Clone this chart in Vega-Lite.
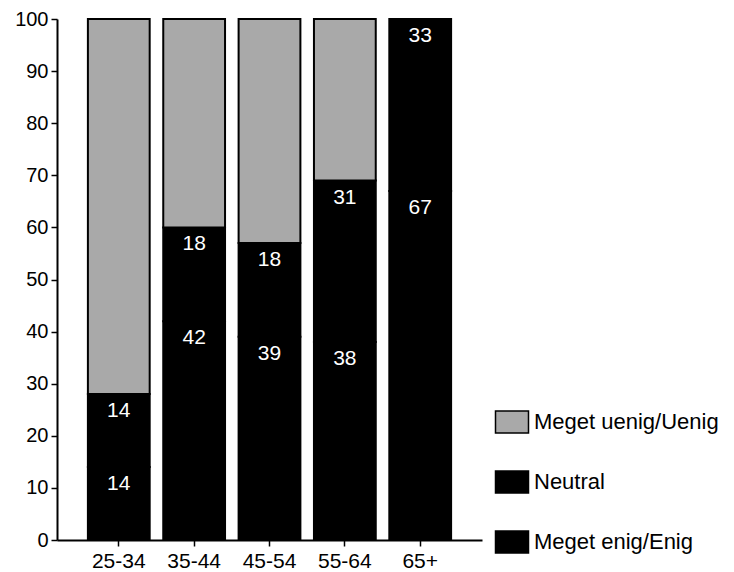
{
  "$schema": "https://vega.github.io/schema/vega-lite/v6.json",
  "width": 425,
  "height": 521,
  "autosize": {"type": "none"},
  "padding": {"left": 57, "top": 19, "right": 252, "bottom": 32},
  "background": "white",
  "config": {
    "font": "Liberation Sans",
    "view": {"stroke": null}
  },
  "data": {
    "values": [
      {"age": "25-34", "cat": "Meget enig/Enig", "order": 1, "value": 14},
      {"age": "25-34", "cat": "Neutral", "order": 2, "value": 14},
      {"age": "25-34", "cat": "Meget uenig/Uenig", "order": 3, "value": 72},
      {"age": "35-44", "cat": "Meget enig/Enig", "order": 1, "value": 42},
      {"age": "35-44", "cat": "Neutral", "order": 2, "value": 18},
      {"age": "35-44", "cat": "Meget uenig/Uenig", "order": 3, "value": 40},
      {"age": "45-54", "cat": "Meget enig/Enig", "order": 1, "value": 39},
      {"age": "45-54", "cat": "Neutral", "order": 2, "value": 18},
      {"age": "45-54", "cat": "Meget uenig/Uenig", "order": 3, "value": 43},
      {"age": "55-64", "cat": "Meget enig/Enig", "order": 1, "value": 38},
      {"age": "55-64", "cat": "Neutral", "order": 2, "value": 31},
      {"age": "55-64", "cat": "Meget uenig/Uenig", "order": 3, "value": 31},
      {"age": "65+", "cat": "Meget enig/Enig", "order": 1, "value": 67},
      {"age": "65+", "cat": "Neutral", "order": 2, "value": 33},
      {"age": "65+", "cat": "Meget uenig/Uenig", "order": 3, "value": 0}
    ]
  },
  "transform": [
    {"stack": "value", "groupby": ["age"], "sort": [{"field": "order", "order": "ascending"}], "as": ["y0", "y1"]}
  ],
  "encoding": {
    "x": {
      "field": "age",
      "type": "nominal",
      "sort": ["25-34", "35-44", "45-54", "55-64", "65+"],
      "scale": {"paddingInner": 0.18, "paddingOuter": 0.41},
      "axis": {
        "title": null,
        "labelAngle": 0,
        "labelFontSize": 21,
        "labelColor": "black",
        "labelPadding": 4,
        "domainColor": "black",
        "domainWidth": 2,
        "tickColor": "black",
        "tickWidth": 1.5,
        "tickSize": 6
      }
    }
  },
  "layer": [
    {
      "mark": {"type": "bar", "stroke": "black", "strokeWidth": 2},
      "encoding": {
        "y": {
          "field": "y0",
          "type": "quantitative",
          "scale": {"domain": [0, 100], "nice": false},
          "axis": {
            "title": null,
            "values": [0, 10, 20, 30, 40, 50, 60, 70, 80, 90, 100],
            "grid": false,
            "labelFontSize": 20,
            "labelColor": "black",
            "labelPadding": 3,
            "domainColor": "black",
            "domainWidth": 2,
            "tickColor": "black",
            "tickWidth": 1.5,
            "tickSize": 6
          }
        },
        "y2": {"field": "y1"},
        "color": {
          "field": "cat",
          "type": "nominal",
          "scale": {
            "domain": ["Meget uenig/Uenig", "Neutral", "Meget enig/Enig"],
            "range": ["#a9a9a9", "#000000", "#000000"]
          },
          "legend": {
            "title": null,
            "orient": "none",
            "legendX": 443,
            "legendY": 391,
            "labelFontSize": 22,
            "labelColor": "black",
            "symbolType": "M-1.5,-1L1.5,-1L1.5,1L-1.5,1Z",
            "symbolSize": 484,
            "symbolStrokeColor": "black",
            "symbolStrokeWidth": 1.5,
            "symbolOpacity": 1,
            "rowPadding": 32,
            "labelOffset": 10,
            "labelLimit": 300
          }
        }
      }
    },
    {
      "transform": [{"filter": "datum.cat != 'Meget uenig/Uenig' && datum.value > 0"}],
      "mark": {"type": "text", "color": "white", "fontSize": 21, "dy": 17, "baseline": "middle"},
      "encoding": {
        "y": {"field": "y1", "type": "quantitative"},
        "text": {"field": "value", "type": "quantitative"}
      }
    }
  ]
}
